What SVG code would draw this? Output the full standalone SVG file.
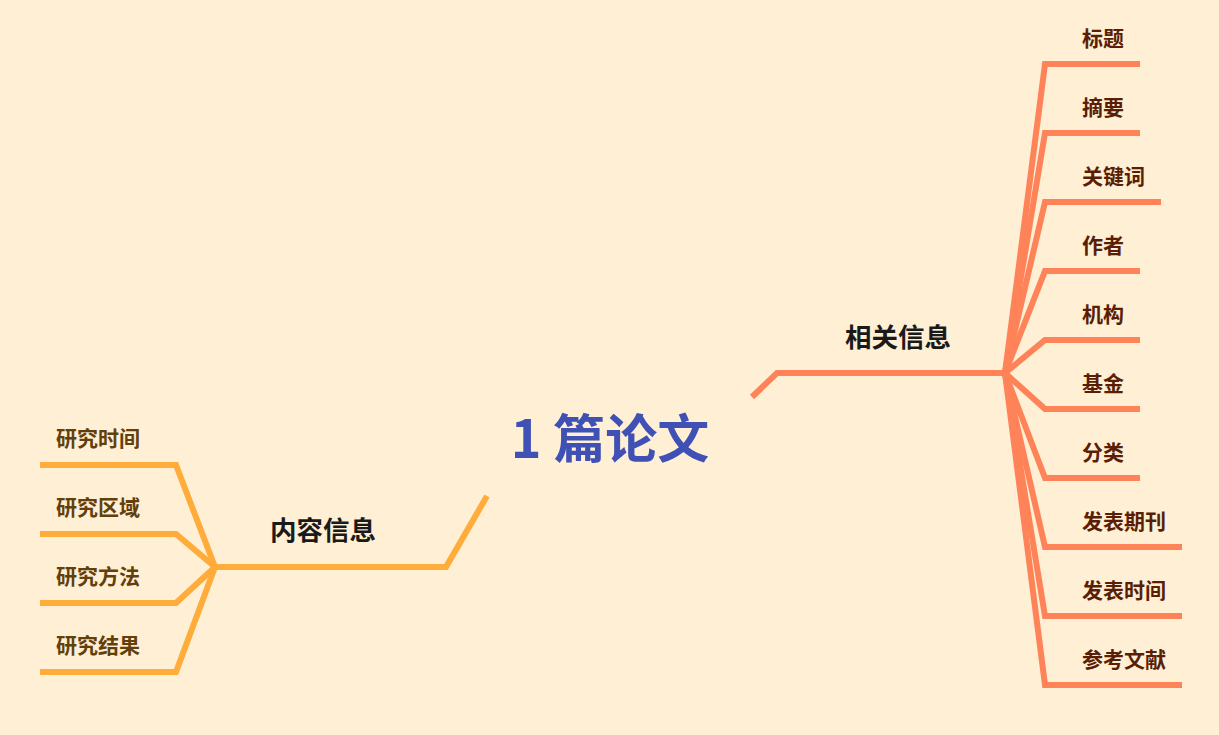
<svg xmlns="http://www.w3.org/2000/svg" width="1219" height="735" viewBox="0 0 1219 735">
<style>
text{font-family:"Noto Sans CJK SC","Noto Sans",sans-serif;font-weight:700}
.r{fill:none;stroke:#FF8358;stroke-width:6;stroke-linejoin:miter}
.l{fill:none;stroke:#FFAC3A;stroke-width:6;stroke-linejoin:miter}
.rl{font-size:21px;fill:#5A1E05}
.ll{font-size:21px;fill:#63400A}
.main{font-size:26.5px;fill:#1A1A1A;text-anchor:middle}
</style>
<rect width="1219" height="735" fill="#FEEFD5"/>
<g id="connectors">
<polyline class="r" points="752,397 777,373 1005,373"/>
<polyline class="r" points="1005,373 1045,64 1140,64"/>
<polyline class="r" points="1005,373 1045,133 1140,133"/>
<polyline class="r" points="1005,373 1045,202 1161,202"/>
<polyline class="r" points="1005,373 1045,271 1140,271"/>
<polyline class="r" points="1005,373 1045,340 1140,340"/>
<polyline class="r" points="1005,373 1045,409 1140,409"/>
<polyline class="r" points="1005,373 1045,478 1140,478"/>
<polyline class="r" points="1005,373 1045,547 1182,547"/>
<polyline class="r" points="1005,373 1045,616 1182,616"/>
<polyline class="r" points="1005,373 1045,685 1182,685"/>
<polyline class="l" points="487,496 446,567 215,567"/>
<polyline class="l" points="215,567 176,465 40,465"/>
<polyline class="l" points="215,567 176,534 40,534"/>
<polyline class="l" points="215,567 176,603 40,603"/>
<polyline class="l" points="215,567 176,672 40,672"/>
</g>
<g id="root"><text x="610" y="458" font-size="52" fill="#3F51B5" text-anchor="middle">1 篇论文</text></g>
<g id="n-xiangguan"><text class="main" x="898" y="347">相关信息</text></g>
<g id="n-neirong"><text class="main" x="323" y="540">内容信息</text></g>
<g id="r1"><text class="rl" x="1082" y="46">标题</text></g>
<g id="r2"><text class="rl" x="1082" y="115">摘要</text></g>
<g id="r3"><text class="rl" x="1082" y="184">关键词</text></g>
<g id="r4"><text class="rl" x="1082" y="253">作者</text></g>
<g id="r5"><text class="rl" x="1082" y="322">机构</text></g>
<g id="r6"><text class="rl" x="1082" y="391">基金</text></g>
<g id="r7"><text class="rl" x="1082" y="460">分类</text></g>
<g id="r8"><text class="rl" x="1082" y="529">发表期刊</text></g>
<g id="r9"><text class="rl" x="1082" y="598">发表时间</text></g>
<g id="r10"><text class="rl" x="1082" y="667">参考文献</text></g>
<g id="l1"><text class="ll" x="56" y="446">研究时间</text></g>
<g id="l2"><text class="ll" x="56" y="515">研究区域</text></g>
<g id="l3"><text class="ll" x="56" y="584">研究方法</text></g>
<g id="l4"><text class="ll" x="56" y="653">研究结果</text></g>
</svg>
